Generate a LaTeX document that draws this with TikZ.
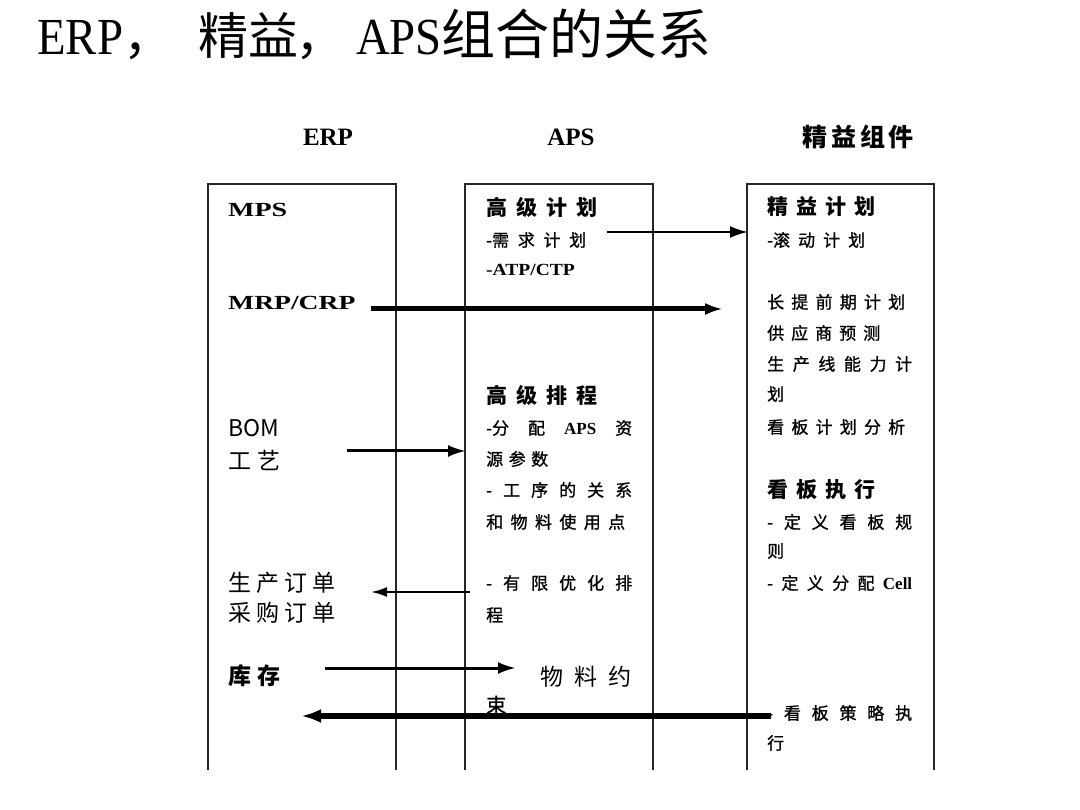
\documentclass[tikz,border=0pt]{standalone}
\usepackage{fontspec}
\setmainfont{Liberation Serif}
\newfontfamily\cjk{Noto Sans CJK SC}
\newfontfamily\cjkh[FakeBold=1]{Noto Sans CJK SC}
\usetikzlibrary{arrows.meta}
\newcommand\spr[2]{\makebox[#1][s]{#2}}
\begin{document}
\begin{tikzpicture}[x=1pt,y=-1pt,
  tx/.style={inner sep=0pt, anchor=west, font=\cjkh\fontsize{17}{19}\selectfont},
  big/.style={inner sep=0pt, anchor=west, font=\cjk\fontsize{23}{25}\selectfont},
  hd/.style={inner sep=0pt, anchor=west, font=\cjk\bfseries\fontsize{21}{23}\selectfont},
  lat/.style={inner sep=0pt, anchor=west, font=\bfseries\fontsize{20}{22}\selectfont},
  colhd/.style={inner sep=0pt, anchor=center, font=\bfseries\fontsize{25}{27}\selectfont},
  box/.style={line width=2pt, draw=black!85},
  arr/.style={-{Latex[length=18pt,width=12pt]}, draw=black}
]
\useasboundingbox (0,0) rectangle (1080,810);
\fill[white] (0,0) rectangle (1080,810);

% title
\node[anchor=base west, inner sep=0pt, font=\fontsize{52}{56}\selectfont] (title) at (37,55)
  {\scalebox{0.9}[1]{ERP}\makebox[75pt][l]{\cjk\fontsize{50}{54}\selectfont ，}%
   \makebox[50pt][l]{\cjk\fontsize{50}{54}\selectfont 精}%
   \makebox[47pt][l]{\cjk\fontsize{50}{54}\selectfont 益}%
   \makebox[61pt][l]{\cjk\fontsize{50}{54}\selectfont ，}%
   \scalebox{0.9}[1]{APS}%
   {\cjk\fontsize{54}{58}\selectfont 组合的关系}};

% column headers
\node[colhd] (hERP) at (328,137) {ERP};
\node[colhd] (hAPS) at (571,137) {APS};
\node[colhd, font=\cjk\bfseries\fontsize{25}{27}\selectfont] (hLean) at (857,137) {\spr{109pt}{精 益 组 件}};

% boxes (open at bottom)
\draw[box] (208,770) -- (208,184) -- (396,184) -- (396,770);
\draw[box] (465,770) -- (465,184) -- (653,184) -- (653,770);
\draw[box] (747,770) -- (747,184) -- (934,184) -- (934,770);

% ERP column
\node[lat] (mps) at (228,210) {\scalebox{1.4}[1]{MPS}};
\node[lat] (mrp) at (228,303) {\scalebox{1.38}[1]{MRP/CRP}};
\node[big] (bom) at (228,428) {BOM};
\node[big] (gy) at (228,460) {\spr{52pt}{工 艺}};
\node[big] (scdd) at (228,583) {\spr{107pt}{生 产 订 单}};
\node[big] (cgdd) at (228,613) {\spr{107pt}{采 购 订 单}};
\node[big, font=\cjk\bfseries\fontsize{23}{25}\selectfont] (kc) at (228,676) {\spr{52pt}{库 存}};

% APS column
\node[hd] (gjjh) at (486,207) {\spr{111pt}{高 级 计 划}};
\node[tx] (xqjh) at (486,240) {\spr{100pt}{-需 求 计 划}};
\node[tx, font=\bfseries\fontsize{17}{19}\selectfont] (atp) at (486,270) {\scalebox{1.15}[1]{-ATP/CTP}};
\node[hd] (gjpc) at (486,395) {\spr{111pt}{高 级 排 程}};
\node[tx] (fp1) at (486,428) {\spr{146pt}{-分 配 {\rmfamily\bfseries APS} 资}};
\node[tx] (fp2) at (486,459) {\spr{62pt}{源 参 数}};
\node[tx] (gx1) at (486,490) {\spr{146pt}{- 工 序 的 关 系}};
\node[tx] (gx2) at (486,522) {\spr{139pt}{和 物 料 使 用 点}};
\node[tx] (yh1) at (486,583) {\spr{146pt}{- 有 限 优 化 排}};
\node[tx] (yh2) at (486,615) {程};
\node[big] (wl1) at (540,677) {\spr{91pt}{物 料 约}};
\node[tx, font=\cjkh\fontsize{20}{22}\selectfont] (wl2) at (486,705) {束};

% Lean column
\node[hd] (jyjh) at (767,207) {\spr{108pt}{精 益 计 划}};
\node[tx] (gdjh) at (767,240) {\spr{98pt}{-滚 动 计 划}};
\node[tx] (ctq) at (767,302) {\spr{138pt}{长 提 前 期 计 划}};
\node[tx] (gys) at (767,333) {\spr{113pt}{供 应 商 预 测}};
\node[tx] (scx1) at (767,364) {\spr{145pt}{生 产 线 能 力 计}};
\node[tx] (scx2) at (767,394) {划};
\node[tx] (kbjh) at (767,427) {\spr{138pt}{看 板 计 划 分 析}};
\node[hd] (kbzx) at (767,490) {\spr{108pt}{看 板 执 行}};
\node[tx] (dy1) at (767,522) {\spr{145pt}{- 定 义 看 板 规}};
\node[tx] (dy2) at (767,551) {则};
\node[tx] (cell) at (767,583) {\spr{145pt}{- 定 义 分 配 {\rmfamily\bfseries Cell}}};
\node[tx] (cl1) at (767,713) {\spr{145pt}{- 看 板 策 略 执}};
\node[tx] (cl2) at (767,743) {行};

% connectors
\coordinate (a1s) at (607,232); \coordinate (a1e) at (748,232);
\coordinate (a2s) at (371,309); \coordinate (a2e) at (723,309);
\coordinate (a3s) at (347,451); \coordinate (a3e) at (466,451);
\coordinate (a4s) at (470,592); \coordinate (a4e) at (371,592);
\coordinate (a5s) at (325,668); \coordinate (a5e) at (516,668);
\coordinate (a6s) at (771,716); \coordinate (a6e) at (301,716);
\draw[arr, line width=2.5pt] (a1s) -- (a1e);
\draw[arr, line width=5pt] (a2s) -- (a2e);
\draw[arr, line width=3pt] (a3s) -- (a3e);
\draw[arr, line width=2.2pt, -{Latex[length=16pt,width=10pt]}] (a4s) -- (a4e);
\draw[arr, line width=3pt] (a5s) -- (a5e);
\draw[arr, line width=6pt, -{Latex[length=20pt,width=14pt]}] (a6s) -- (a6e);
\end{tikzpicture}
\end{document}
